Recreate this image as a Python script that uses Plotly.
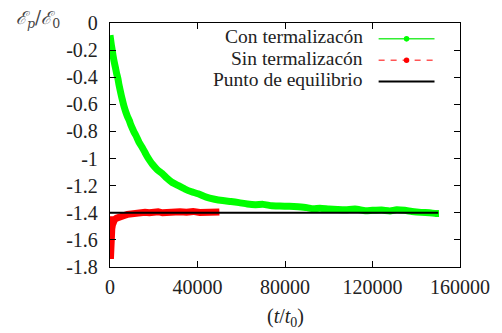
import plotly.graph_objects as go

# Potential energy ratio E_p/E_0 vs. time t/t_0
green_t = [0, 250, 600, 1000, 1350, 1900, 2500, 3000, 3600, 4100, 4700, 5250,
           5850, 6500, 7300, 8000, 8850, 9500, 10300, 11000, 11850, 13300,
           14800, 16000, 17000, 18200, 19300, 21500, 23800, 26000, 28300, 31300,
           34300, 37300, 40300, 44000, 47800, 51500, 55300, 59000, 62800, 66500,
           70000, 74000, 77600, 82000, 86000, 90000, 92800, 96000, 100000,
           104000, 107700, 112000, 116700, 120000, 124200, 128000, 131000,
           134700, 138000, 142200, 146000, 149000, 150400]
green_v = [-0.09, -0.12, -0.16, -0.20, -0.236, -0.285, -0.33, -0.37, -0.41,
           -0.455, -0.50, -0.54, -0.58, -0.62, -0.66, -0.69, -0.72, -0.75, -0.78,
           -0.805, -0.83, -0.88, -0.92, -0.955, -0.985, -1.015, -1.04, -1.08,
           -1.11, -1.145, -1.175, -1.20, -1.225, -1.245, -1.26, -1.285, -1.30,
           -1.31, -1.317, -1.325, -1.335, -1.34, -1.338, -1.348, -1.35, -1.352,
           -1.356, -1.362, -1.37, -1.366, -1.372, -1.376, -1.378, -1.372, -1.385,
           -1.382, -1.38, -1.386, -1.378, -1.382, -1.39, -1.397, -1.40, -1.405,
           -1.405]

red_t = [0, 80, 200, 350, 550, 800, 1100, 1500, 2100, 3000, 4000, 5100, 6500,
         8000, 9600, 12000, 14000, 16000, 18000, 20100, 22000, 24000, 26000,
         28000, 30000, 32000, 35000, 38000, 41000, 44000, 47000, 50000]
red_v = [-1.425, -1.72, -1.74, -1.66, -1.58, -1.52, -1.49, -1.47, -1.45, -1.44,
         -1.43, -1.425, -1.42, -1.412, -1.407, -1.40, -1.403, -1.396, -1.40,
         -1.395, -1.392, -1.40, -1.396, -1.39, -1.398, -1.393, -1.396, -1.39,
         -1.398, -1.393, -1.395, -1.394]

eq_t = [0, 150000]
eq_v = [-1.4, -1.4]

series_names = ["Con termalizacón", "Sin termalizacón", "Punto de equilibrio"]

y_ticks = [0, -0.2, -0.4, -0.6, -0.8, -1.0, -1.2, -1.4, -1.6, -1.8]
y_tick_text = ["0", "-0.2", "-0.4", "-0.6", "-0.8", "-1", "-1.2", "-1.4", "-1.6", "-1.8"]
x_ticks = [0, 40000, 80000, 120000, 160000]
x_tick_text = ["0", "40000", "80000", "120000", "160000"]

FONT = "'Liberation Serif'"
W, H = 502, 333
ML, MR, MT, MB = 110, 35, 21, 66
PW, PH = W - ML - MR, H - MT - MB


def px(x):
    return (x - ML) / PW


def py(y):
    return (H - MB - y) / PH


fig = go.Figure()
fig.add_trace(go.Scatter(x=green_t, y=green_v, mode="lines",
                         line=dict(color="#00ff00", width=7, shape="spline", smoothing=0.6),
                         showlegend=False))
fig.add_trace(go.Scatter(x=red_t, y=red_v, mode="lines",
                         line=dict(color="#ff0000", width=7), showlegend=False))
fig.add_trace(go.Scatter(x=eq_t, y=eq_v, mode="lines",
                         line=dict(color="#000000", width=2), showlegend=False))

axis_common = dict(
    showline=True, linecolor="#000000", linewidth=1.3, mirror="ticks",
    ticks="inside", ticklen=6, tickcolor="#000000", tickwidth=1,
    showgrid=False, zeroline=False,
    tickfont=dict(family=FONT, size=20, color="#222222"),
)

fig.update_xaxes(range=[0, 160000], tickvals=x_ticks, ticktext=x_tick_text,
                 ticklabelstandoff=2, **axis_common)
fig.update_yaxes(range=[-1.8, 0], tickvals=y_ticks, ticktext=y_tick_text,
                 ticklabelstandoff=7, **axis_common)

# Legend drawn by hand: text right-aligned, sample to its right
rows_y = [35, 56.5, 78]
samples = [
    dict(color="#33ee33", dash="solid", marker="#00ff00"),
    dict(color="#ff5555", dash="dash", marker="#ff0000"),
    dict(color="#000000", dash="solid", marker=None),
]
annotations = []
shapes = []
for name, yy, s in zip(series_names, rows_y, samples):
    annotations.append(dict(
        x=px(370), y=py(yy), xref="paper", yref="paper", text=name,
        showarrow=False, xanchor="right", yanchor="middle",
        font=dict(family=FONT, size=19.5, color="#222222")))
    shapes.append(dict(
        type="line", xref="paper", yref="paper",
        x0=px(384), x1=px(441), y0=py(yy + 2), y1=py(yy + 2),
        line=dict(color=s["color"], width=1.5 if s["marker"] else 2,
                  dash="6px,6px" if s["dash"] == "dash" else "solid")))
    if s["marker"]:
        r = 2.8
        shapes.append(dict(
            type="circle", xref="paper", yref="paper",
            x0=px(412.5 - r), x1=px(412.5 + r), y0=py(yy + 2 + r), y1=py(yy + 2 - r),
            fillcolor=s["marker"], line=dict(width=0)))

annotations.append(dict(
    x=px(37), y=py(17), xref="paper", yref="paper",
    text="<i>ℰ<sub>p</sub></i>/<i>ℰ</i><sub>0</sub>", showarrow=False,
    xanchor="center", yanchor="middle",
    font=dict(family="'DejaVu Serif'", size=18, color="#444444")))
annotations.append(dict(
    x=0.5, y=py(318), xref="paper", yref="paper",
    text="(<i>t</i>/<i>t</i><sub>0</sub>)", showarrow=False,
    xanchor="center", yanchor="middle",
    font=dict(family=FONT, size=20, color="#222222")))

fig.update_layout(
    width=W, height=H,
    margin=dict(l=ML, r=MR, t=MT, b=MB, pad=0),
    paper_bgcolor="white", plot_bgcolor="white",
    showlegend=False,
    font=dict(family=FONT),
    annotations=annotations, shapes=shapes,
)

fig.write_html("out.html")
